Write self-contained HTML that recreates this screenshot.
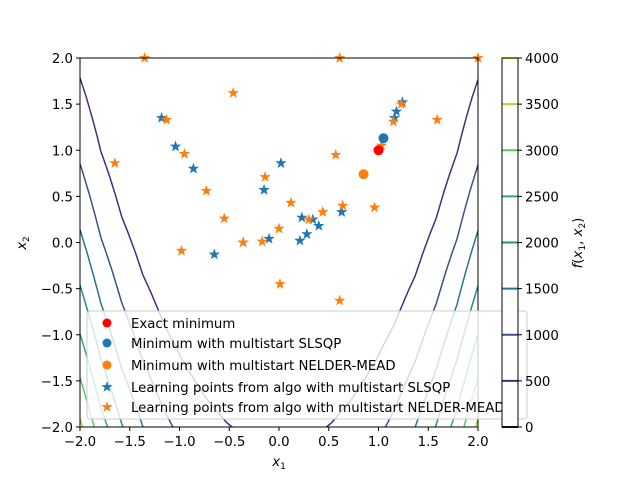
<!DOCTYPE html>
<html><head><meta charset="utf-8"><style>
body{margin:0;background:#fff}
svg{font-family:"DejaVu Sans","Liberation Sans",sans-serif}
</style></head><body>
<svg id="c" width="640" height="480" viewBox="0 0 640 480" xmlns="http://www.w3.org/2000/svg">
<defs><clipPath id="clip"><rect x="80" y="58" width="398" height="369"/></clipPath>
<path id="star" d="M0,-6 L1.4,-1.9 L5.7,-1.9 L2.3,0.7 L3.5,4.8 L0,2.4 L-3.5,4.8 L-2.3,0.7 L-5.7,-1.9 L-1.4,-1.9Z"/></defs>
<g id="contours" clip-path="url(#clip)"></g>
<g id="pts"></g>
<rect x="80" y="58" width="398" height="369" fill="none" stroke="#000" stroke-width="1"/>
<g id="axes" font-size="13.3" fill="#000"></g>
<g id="legend">
<rect x="87" y="311" width="440" height="108" rx="3" fill="#fff" fill-opacity="0.8" stroke="#ccc"/>
<circle cx="107" cy="323" r="4.5" fill="#ff0000"/><text x="131" y="328" font-size="13.3">Exact minimum</text>
<circle cx="107" cy="343" r="4.5" fill="#1f77b4"/><text x="131" y="348" font-size="13.3">Minimum with multistart SLSQP</text>
<circle cx="107" cy="365" r="4.5" fill="#ff7f0e"/><text x="131" y="370" font-size="13.3">Minimum with multistart NELDER-MEAD</text>
<use href="#star" x="107" y="387" fill="#1f77b4"/><text x="131" y="392" font-size="13.3">Learning points from algo with multistart SLSQP</text>
<use href="#star" x="107" y="407" fill="#ff7f0e"/><text x="131" y="412" font-size="13.3">Learning points from algo with multistart NELDER-MEAD</text>
</g>
<g id="cbar"></g>
</svg>
<script>
const levels=[0,500,1000,1500,2000,2500,3000,3500,4000];
const levelColors=["#440154","#472d7b","#3b528b","#2c728e","#21918c","#28ae80","#5ec962","#addc30","#fde725"];
const xTicks=[-2.0,-1.5,-1.0,-0.5,0.0,0.5,1.0,1.5,2.0];
const yTicks=[-2.0,-1.5,-1.0,-0.5,0.0,0.5,1.0,1.5,2.0];
const cbTicks=[0,500,1000,1500,2000,2500,3000,3500,4000];
const slsqpX=[-1.18,-1.04,-0.86,0.02,-0.15,0.23,0.34,0.40,0.28,0.21,-0.10,-0.36,-0.65,0.63,1.16,1.18,1.24];
const slsqpY=[1.35,1.04,0.80,0.86,0.57,0.27,0.25,0.18,0.09,0.02,0.04,0.0,-0.13,0.33,1.35,1.42,1.52];
const nmX=[-1.35,0.61,2.0,-0.46,-1.13,-1.65,-0.95,-0.14,-0.73,0.57,0.12,-0.55,0.44,0.64,0.96,0.30,0.0,-0.36,-0.17,-0.98,0.01,0.61,1.15,1.23,1.59,1.03];
const nmY=[2.0,2.0,2.0,1.62,1.33,0.86,0.96,0.71,0.56,0.95,0.43,0.26,0.33,0.40,0.38,0.25,0.15,0.0,0.01,-0.09,-0.45,-0.63,1.31,1.50,1.33,1.05];
const minima=[{x:1.0,y:1.0,c:"#ff0000",n:"exact-minimum"},{x:1.05,y:1.13,c:"#1f77b4",n:"slsqp-minimum"},{x:0.85,y:0.74,c:"#ff7f0e",n:"nelder-mead-minimum"}];
const NS="http://www.w3.org/2000/svg";
const X=v=>80+(v+2)*99.5, Y=v=>427-(v+2)*92.25;
function mk(t,a,p){const e=document.createElementNS(NS,t);for(const k in a)e.setAttribute(k,a[k]);(p||document.getElementById('c')).appendChild(e);return e;}
const N=20,g=[],gx=[];
for(let i=0;i<N;i++)gx.push(-2+4*i/(N-1));
const f=(x,y)=>(1-x)*(1-x)+100*(y-x*x)*(y-x*x);
for(let j=0;j<N;j++){g.push([]);for(let i=0;i<N;i++)g[j].push(f(gx[i],gx[j]));}
const cg=document.getElementById('contours');
levels.forEach((L,li)=>{if(L===0||L===4000)return;let d="";
for(let j=0;j<N-1;j++)for(let i=0;i<N-1;i++){
const c=[[gx[i],gx[j],g[j][i]],[gx[i+1],gx[j],g[j][i+1]],[gx[i+1],gx[j+1],g[j+1][i+1]],[gx[i],gx[j+1],g[j+1][i]]];
const p=[];for(let k=0;k<4;k++){const a=c[k],b=c[(k+1)%4];if((a[2]-L)*(b[2]-L)<0){const t=(L-a[2])/(b[2]-a[2]);p.push([a[0]+t*(b[0]-a[0]),a[1]+t*(b[1]-a[1])]);}}
for(let k=0;k+1<p.length;k+=2)d+="M"+X(p[k][0]).toFixed(1)+","+Y(p[k][1]).toFixed(1)+"L"+X(p[k+1][0]).toFixed(1)+","+Y(p[k+1][1]).toFixed(1);}
const e=mk('path',{d:d,fill:'none',stroke:levelColors[li],'stroke-width':1.5},cg);

});
const pg=document.getElementById('pts');
slsqpX.forEach((x,i)=>{const e=mk('use',{href:'#star',x:X(x),y:Y(slsqpY[i]),fill:'#1f77b4'},pg);

});
nmX.forEach((x,i)=>{const e=mk('use',{href:'#star',x:X(x),y:Y(nmY[i]),fill:'#ff7f0e'},pg);

});
minima.forEach(m=>{const e=mk('circle',{cx:X(m.x),cy:Y(m.y),r:5,fill:m.c},pg);

});
const ag=document.getElementById('axes');
xTicks.forEach(v=>{mk('line',{x1:X(v),x2:X(v),y1:427,y2:431,stroke:'#000'},ag);
const t=mk('text',{x:X(v),y:446,'text-anchor':'middle'},ag);t.textContent=v.toFixed(1).replace('-','\u2212');

});
yTicks.forEach(v=>{mk('line',{x1:76,x2:80,y1:Y(v),y2:Y(v),stroke:'#000'},ag);
const t=mk('text',{x:73,y:Y(v)+5,'text-anchor':'end'},ag);t.textContent=v.toFixed(1).replace('-','\u2212');

});
let t=mk('text',{x:279,y:466,'text-anchor':'middle','font-style':'italic'},ag);t.innerHTML='x<tspan font-size="9" dy="3" font-style="normal">1</tspan>';


t=mk('text',{x:0,y:0,'text-anchor':'middle','font-style':'italic',transform:'translate(26,243) rotate(-90)'},ag);t.innerHTML='x<tspan font-size="9" dy="3" font-style="normal">2</tspan>';


const cb=document.getElementById('cbar');
const CY=v=>427-v/4000*369;
mk('rect',{x:502,y:58,width:16,height:369,fill:'#fff'},cb);
levels.forEach((L,i)=>{mk('line',{x1:502,x2:518,y1:CY(L),y2:CY(L),stroke:levelColors[i],'stroke-width':2},cb);});
mk('rect',{x:502,y:58,width:16,height:369,fill:'none',stroke:'#000'},cb);
cbTicks.forEach(v=>{mk('line',{x1:518,x2:522,y1:CY(v),y2:CY(v),stroke:'#000'},cb);
const e=mk('text',{x:525,y:CY(v)+5,'font-size':13.3},cb);e.textContent=v;

});
t=mk('text',{x:0,y:0,'text-anchor':'middle','font-size':13.3,transform:'translate(582,243) rotate(-90)'},cb);
t.innerHTML='<tspan font-style="italic">f</tspan>(<tspan font-style="italic">x</tspan><tspan font-size="9" dy="3">1</tspan><tspan dy="-3">, </tspan><tspan font-style="italic">x</tspan><tspan font-size="9" dy="3">2</tspan><tspan dy="-3">)</tspan>';


</script>
</body></html>
